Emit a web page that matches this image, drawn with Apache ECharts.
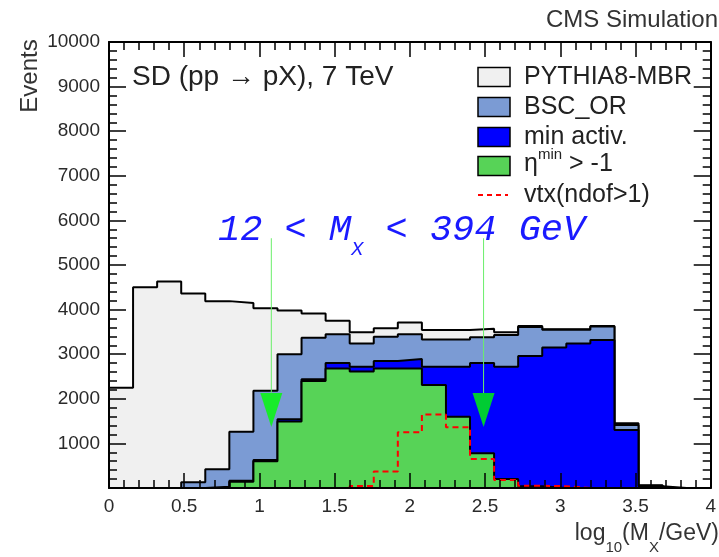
<!DOCTYPE html>
<html><head><meta charset="utf-8">
<script src="https://cdn.jsdelivr.net/npm/echarts@6/dist/echarts.min.js"></script>
<style>html,body{margin:0;padding:0;background:#fff}#c{width:719px;height:557px}</style>
</head><body><div id="c"></div>
<script>
// Bin edges of log10(M_X/GeV) histogram (bin width 0.16)
const binEdges = [0, 0.16, 0.32, 0.48, 0.64, 0.8, 0.96, 1.12, 1.28, 1.44, 1.6, 1.76, 1.92, 2.08, 2.24, 2.4, 2.56, 2.72, 2.88, 3.04, 3.2, 3.36, 3.52, 3.68, 3.84, 4.0];
// Events per bin
const pythia  = [2250, 4500, 4630, 4360, 4190, 4150, 4030, 3980, 3910, 3750, 3490, 3580, 3710, 3540, 3540, 3570, 3490, 3630, 3560, 3560, 3630, 1450, 60, 0, 0];
const bscOr   = [0, 0, 0, 130, 420, 1260, 2180, 3000, 3370, 3450, 3240, 3390, 3450, 3330, 3330, 3380, 3430, 3610, 3550, 3550, 3620, 1410, 50, 0, 0];
const minAct  = [0, 0, 0, 0, 30, 165, 630, 1540, 2440, 2800, 2720, 2850, 2890, 2720, 2720, 2800, 2720, 2960, 3150, 3240, 3320, 1300, 40, 0, 0];
const etaMin  = [0, 0, 0, 0, 0, 140, 600, 1490, 2400, 2680, 2610, 2680, 2680, 2310, 1600, 780, 200, 40, 0, 0, 0, 0, 0, 0, 0];
const vtx     = [0, 0, 0, 0, 0, 0, 0, 0, 0, 0, 45, 370, 1250, 1650, 1360, 650, 180, 50, 40, 0, 0, 0, 0, 0, 0];
// Mass-window arrows (log10 M_X) and their vertical extent (Events)
const arrowX = [1.079, 2.49];
const arrowStemTop = 5600;
const arrowStemBottom = 2130;
const arrowHeadY = 1750;
// Axis ticks
const xTicks = {min: 0, max: 4, interval: 0.5};
const yTicks = {min: 0, max: 10000, interval: 1000};
const seriesNames = ['PYTHIA8-MBR', 'BSC_OR', 'min activ.', 'η^min > -1', 'vtx(ndof>1)'];
const fillColors = ['#f0f0f0', '#7b9bd4', '#0000ff', '#57d357', '#ff0000'];

function stepData(vals) {
  const d = [[binEdges[0], 0]];
  vals.forEach((v, i) => d.push([binEdges[i], v]));
  d.push([binEdges[vals.length], 0]);
  return d;
}

const FONT = 'Liberation Sans, Arial, sans-serif';
const MONO = 'Liberation Mono, monospace';
const mctx = document.createElement('canvas').getContext('2d');
function tw(text, font) { mctx.font = font; return mctx.measureText(text).width; }

// Text with subscripts as a row of pieces: [text, isSub]
function subText(pieces, x0, alignRight, mainSize, subSize, family, style, yMain, ySub, color, z) {
  const fontOf = (sub) => (style ? style + ' ' : '') + (sub ? subSize : mainSize) + 'px ' + family;
  const widths = pieces.map(p => tw(p[0], fontOf(p[1])));
  const total = widths.reduce((a, b) => a + b, 0);
  let x = alignRight ? x0 - total : x0;
  return pieces.map((p, i) => {
    const el = {type: 'text', x: x, y: p[1] ? ySub : yMain, z: z || 50, style: {
      text: p[0], fontSize: p[1] ? subSize : mainSize, fontFamily: family, fontStyle: style || 'normal',
      fill: color, align: 'left', verticalAlign: 'middle'}};
    x += widths[i];
    return el;
  });
}

const chart = echarts.init(document.getElementById('c'));
const axisCommon = {
  axisLine: {show: true, onZero: false, lineStyle: {color: '#000', width: 2}},
  axisTick: {show: true, inside: true, lineStyle: {color: '#000', width: 1.5}},
  minorTick: {show: true, splitNumber: 5, lineStyle: {color: '#000', width: 1.5}},
  splitLine: {show: false},
  z: 10
};

const histSeries = [pythia, bscOr, minAct, etaMin].map((vals, i) => ({
  name: seriesNames[i], type: 'line', step: 'end', data: stepData(vals),
  symbol: 'none', lineStyle: {color: '#000', width: 2},
  areaStyle: {color: fillColors[i], opacity: 1}, z: 2 + i
}));
histSeries.push({
  name: seriesNames[4], type: 'line', step: 'end', data: stepData(vtx),
  symbol: 'none', lineStyle: {color: '#ff0000', width: 2, type: [6, 4]}, z: 7
});
arrowX.forEach((x) => histSeries.push({
  type: 'line', data: [[x, arrowStemTop], [x, arrowStemBottom]], symbol: 'none',
  lineStyle: {color: '#6aee6a', width: 1}, z: 8
}));
histSeries.push({
  type: 'scatter', data: arrowX.map(x => [x, arrowHeadY]), symbol: 'triangle',
  symbolRotate: 180, symbolSize: [22, 34], itemStyle: {color: '#00ff00'}, z: 9
});

const legendRowsY = [77, 107, 137, 166, 195];
const legendGraphics = [];
seriesNames.forEach((n, i) => {
  const y = legendRowsY[i];
  if (i < 4) {
    legendGraphics.push({type: 'rect', shape: {x: 478, y: y - 9.5, width: 32, height: 19},
      style: {fill: fillColors[i], stroke: '#000', lineWidth: 1.5}});
  } else {
    legendGraphics.push({type: 'line', shape: {x1: 478, y1: y, x2: 508, y2: y},
      style: {stroke: '#ff0000', lineWidth: 2, lineDash: [5, 4]}});
  }
  if (i === 3) {
    const rich = {a: {fontSize: 25, fontFamily: FONT, lineHeight: 30, verticalAlign: 'bottom', fill: '#222'},
            s: {fontSize: 15, fontFamily: FONT, lineHeight: 15, verticalAlign: 'top', fill: '#222'}};
    legendGraphics.push({type: 'text', x: 524, y: y - 4, style: {text: '{a|η}{s|min}{a| > -1}', rich: rich, verticalAlign: 'middle', align: 'left'}});
  } else {
    legendGraphics.push({type: 'text', x: 524, y: y, style: {text: n, fontSize: 25, fontFamily: FONT, fill: '#222', verticalAlign: 'middle', align: 'left'}});
  }
});

const tickAxis = (extra, len) => Object.assign({type: 'value'}, axisCommon, extra, {
  axisTick: Object.assign({}, axisCommon.axisTick, {length: len}),
  minorTick: Object.assign({}, axisCommon.minorTick, {length: 8})});

chart.setOption({
  animation: false,
  grid: {left: 109, right: 1, top: 42, bottom: 69, containLabel: false},
  xAxis: [
    tickAxis({position: 'bottom', min: xTicks.min, max: xTicks.max, interval: xTicks.interval,
      axisLabel: {color: '#2a2a2a', fontSize: 19, fontFamily: FONT, margin: 9}}, 15),
    tickAxis({position: 'top', min: xTicks.min, max: xTicks.max, interval: xTicks.interval,
      axisLabel: {show: false}}, 15)
  ],
  yAxis: [
    tickAxis({position: 'left', min: yTicks.min, max: yTicks.max, interval: yTicks.interval,
      axisLabel: {color: '#2a2a2a', fontSize: 19, fontFamily: FONT, margin: 9, formatter: v => v === 0 ? '' : String(v)}}, 17),
    tickAxis({position: 'right', min: yTicks.min, max: yTicks.max, interval: yTicks.interval,
      axisLabel: {show: false}}, 17)
  ],
  series: histSeries,
  graphic: [
    {type: 'text', x: 718, y: 20, style: {text: 'CMS Simulation', fontSize: 24, fontFamily: FONT, fill: '#333', align: 'right', verticalAlign: 'middle'}},
    {type: 'text', x: 30, y: 76, rotation: Math.PI / 2, style: {text: 'Events', fontSize: 24, fontFamily: FONT, fill: '#333', align: 'center', verticalAlign: 'middle'}},
    {type: 'text', x: 132, y: 77, style: {text: 'SD (pp → pX), 7 TeV', fontSize: 28, fontFamily: FONT, fill: '#222', align: 'left', verticalAlign: 'middle'}}
  ]
  .concat(subText([['12 < M', false], ['X', true], [' < 394 GeV', false]], 218, false, 37, 20, MONO, 'italic', 230, 250, '#1a1aff', 100))
  .concat(subText([['log', false], ['10', true], ['(M', false], ['X', true], ['/GeV)', false]], 719, true, 23, 15, FONT, '', 534, 548, '#333', 50))
  .concat(legendGraphics)
});
</script></body></html>
